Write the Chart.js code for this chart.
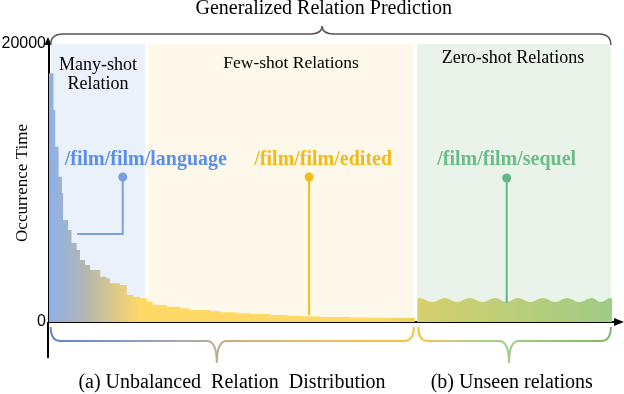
<!DOCTYPE html>
<html>
<head>
<meta charset="utf-8">
<script src="https://cdn.jsdelivr.net/npm/chart.js@4/dist/chart.umd.min.js"></script>
<style>
  body { margin: 0; background: #fff; }
  #wrap { width: 624px; height: 394px; }
</style>
</head>
<body>
<div id="wrap"><canvas id="dist" width="624" height="394"></canvas></div>
<script>
// relation rank (0-100 along the x axis) and occurrence counts
const headRank = [0, 0.8, 1.1, 1.7, 2.3, 2.5, 3.4, 4.0, 4.9, 5.5, 6.4, 7.3, 9.1, 10.2, 10.8, 12.6, 13.8, 15.0, 16.2, 17.4, 18.5, 21.0, 23.3, 25.0, 28.6, 30.4, 33.4, 35.7, 39.3, 42.3, 44.6, 48.1, 53.5, 57.0, 62.3, 65.0];
const headCount = [18610, 17900, 15250, 12610, 10450, 9280, 7340, 6620, 5680, 5180, 4460, 4100, 3740, 3260, 3140, 2780, 2660, 1940, 1820, 1700, 1460, 1220, 1100, 985, 863, 790, 700, 625, 575, 500, 450, 410, 360, 330, 280, 280];
const zeroRank = [65.4, 65.9, 68.1, 70.3, 72.5, 74.7, 77.0, 79.2, 81.2, 83.3, 85.5, 87.7, 89.9, 92.0, 94.2, 96.4, 98.0, 99.6, 100];
const zeroCount = [1650, 1730, 1440, 1730, 1440, 1730, 1440, 1730, 1440, 1730, 1440, 1730, 1440, 1730, 1440, 1730, 1440, 1730, 1700];
const yTicks = [0, 20000];

// shaded groups
const groupEdges = [[0.35, 17.05], [17.6, 64.7], [65.4, 99.8]];
const groupFill = ['#eaf1fb', '#fef8ea', '#e9f3ea'];

// highlighted relations
const annLabels = ['/film/film/language', '/film/film/edited', '/film/film/sequel'];
const annRank = [13.1, 46.2, 81.3];
const annTextRank = [17.2, 48.7, 81.3];
const annDot = [10430, 10430, 10360];
const annEnd = [6330, 500, 1370];
const annColors = ['#5b8fe8', '#f2ba18', '#6cbb8a'];
const annLines = ['#7ba0e0', '#f5bd14', '#62b585'];

function headGradient(context) {
	const chart = context.chart;
	const area = chart.chartArea;
	if (!area) return '#ffd866';
	const x = chart.scales.x;
	const g = chart.ctx.createLinearGradient(x.getPixelForValue(0), 0, x.getPixelForValue(65), 0);
	g.addColorStop(0, '#8db0ea');
	g.addColorStop(0.1, '#b4b6b0');
	g.addColorStop(0.25, '#ffd866');
	g.addColorStop(0.9, '#ffd866');
	g.addColorStop(1, '#ead060');
	return g;
}
function zeroGradient(context) {
	const chart = context.chart;
	const area = chart.chartArea;
	if (!area) return '#b8ce7a';
	const x = chart.scales.x;
	const g = chart.ctx.createLinearGradient(x.getPixelForValue(65.4), 0, x.getPixelForValue(100), 0);
	g.addColorStop(0, '#d6cf6c');
	g.addColorStop(1, '#9fcc85');
	return g;
}

function brace(c, x1, x2, yBase, yFlat, yTip, tipX, r) {
	c.beginPath();
	c.moveTo(x1, yBase);
	c.quadraticCurveTo(x1, yFlat, x1 + r, yFlat);
	c.lineTo(tipX - r, yFlat);
	c.quadraticCurveTo(tipX, yFlat, tipX, yTip);
	c.quadraticCurveTo(tipX, yFlat, tipX + r, yFlat);
	c.lineTo(x2 - r, yFlat);
	c.quadraticCurveTo(x2, yFlat, x2, yBase);
	c.stroke();
}

const regions = {
	id: 'regions',
	beforeDatasetsDraw(chart) {
		const c = chart.ctx, a = chart.chartArea, x = chart.scales.x;
		c.save();
		groupEdges.forEach((e, i) => {
			c.fillStyle = groupFill[i];
			const l = x.getPixelForValue(e[0]), r = x.getPixelForValue(e[1]);
			c.fillRect(l, a.top, r - l, a.bottom - a.top);
		});
		c.fillStyle = '#000';
		c.textAlign = 'center';
		c.textBaseline = 'middle';
		c.font = '18px "Liberation Serif"';
		const m = (groupEdges[0][0] + groupEdges[0][1]) / 2;
		c.fillText('Many-shot', x.getPixelForValue(m), a.top + 21);
		c.fillText('Relation', x.getPixelForValue(m), a.top + 40);
		c.font = '17.5px "Liberation Serif"';
		c.fillText('Few-shot Relations', x.getPixelForValue(43), a.top + 19);
		c.font = '18px "Liberation Serif"';
		c.fillText('Zero-shot Relations', x.getPixelForValue(82.4), a.top + 14);
		c.restore();
	},
	afterDatasetsDraw(chart) {
		const c = chart.ctx, x = chart.scales.x, y = chart.scales.y;
		c.save();
		annLabels.forEach((t, i) => {
			const px = x.getPixelForValue(annRank[i]);
			const py = y.getPixelForValue(annDot[i]);
			c.strokeStyle = annLines[i];
			c.lineWidth = 2;
			c.beginPath();
			c.moveTo(px, py);
			c.lineTo(px, y.getPixelForValue(annEnd[i]));
			if (i === 0) c.lineTo(x.getPixelForValue(5.0), y.getPixelForValue(annEnd[i]));
			c.stroke();
			c.fillStyle = annLines[i];
			c.beginPath();
			c.arc(px, py, 4.5, 0, Math.PI * 2);
			c.fill();
			c.fillStyle = annColors[i];
			c.font = 'bold 20px "Liberation Serif"';
			c.textAlign = 'center';
			c.textBaseline = 'middle';
			c.fillText(t, x.getPixelForValue(annTextRank[i]), y.getPixelForValue(11650));
		});
		c.restore();
	},
	afterDraw(chart) {
		const c = chart.ctx, a = chart.chartArea, x = chart.scales.x, y = chart.scales.y;
		const x0 = y.right - 1;
		c.save();
		// axis extensions and arrows
		c.strokeStyle = '#000';
		c.fillStyle = '#000';
		c.lineWidth = 2;
		c.beginPath();
		c.moveTo(x0, a.top);
		c.lineTo(x0, a.top - 4);
		c.moveTo(x0, a.bottom);
		c.lineTo(x0, a.bottom + 36);
		c.moveTo(a.right, a.bottom);
		c.lineTo(a.right + 3, a.bottom);
		c.stroke();
		c.beginPath();
		c.moveTo(x0, a.top - 7);
		c.lineTo(x0 - 3.5, a.top + 1);
		c.lineTo(x0 + 3.5, a.top + 1);
		c.fill();
		c.beginPath();
		c.moveTo(a.right + 12, a.bottom);
		c.lineTo(a.right + 2, a.bottom - 4);
		c.lineTo(a.right + 2, a.bottom + 4);
		c.fill();

		// top brace and title
		c.strokeStyle = '#555';
		c.lineWidth = 1.5;
		brace(c, x.getPixelForValue(0.3), x.getPixelForValue(99.8), a.top + 1, a.top - 10, a.top - 18, x.getPixelForValue(48.5), 12);
		c.fillStyle = '#000';
		c.textAlign = 'center';
		c.textBaseline = 'middle';
		c.font = '20px "Liberation Serif"';
		c.fillText('Generalized Relation Prediction', x.getPixelForValue(48.8), 9);

		// bottom braces
		c.lineWidth = 2;
		let l = x.getPixelForValue(0.3), r = x.getPixelForValue(64.8);
		let g = c.createLinearGradient(l, 0, r, 0);
		g.addColorStop(0, '#5b85d6');
		g.addColorStop(0.35, '#a5a9b6');
		g.addColorStop(0.5, '#c9ad7c');
		g.addColorStop(0.75, '#e9c062');
		g.addColorStop(1, '#f7c233');
		c.strokeStyle = g;
		brace(c, l, r, a.bottom + 5, a.bottom + 19, a.bottom + 41, x.getPixelForValue(29.8), 10);
		l = x.getPixelForValue(65.6); r = x.getPixelForValue(99.8);
		g = c.createLinearGradient(l, 0, r, 0);
		g.addColorStop(0, '#f6c232');
		g.addColorStop(0.1, '#e6c36a');
		g.addColorStop(0.3, '#a9d28f');
		g.addColorStop(1, '#7fb86a');
		c.strokeStyle = g;
		brace(c, l, r, a.bottom + 5, a.bottom + 19, a.bottom + 41, x.getPixelForValue(81.7), 10);

		c.fillStyle = '#000';
		c.font = '20px "Liberation Serif"';
		c.fillText('(a) Unbalanced  Relation  Distribution', x.getPixelForValue(32.5), 383);
		c.fillText('(b) Unseen relations', x.getPixelForValue(82.2), 383);
		c.restore();
	}
};

const distCanvas = document.querySelector('#dist');
let distChart = new Chart(distCanvas, {
	type: 'line',
	data: {
		datasets: [{
			label: 'seen relations',
			data: headRank.map((r, i) => ({x: r, y: headCount[i]})),
			stepped: 'after',
			fill: 'origin',
			backgroundColor: headGradient,
			borderWidth: 0,
			pointRadius: 0
		}, {
			label: 'unseen relations',
			data: zeroRank.map((r, i) => ({x: r, y: zeroCount[i]})),
			tension: 0.4,
			fill: 'origin',
			backgroundColor: zeroGradient,
			borderWidth: 0,
			pointRadius: 0
		}]
	},
	options: {
		responsive: false,
		animation: false,
		devicePixelRatio: 1,
		layout: { padding: { top: 44, right: 12, left: 0, bottom: 0 } },
		plugins: { legend: { display: false }, tooltip: { enabled: false } },
		scales: {
			x: {
				type: 'linear',
				min: 0,
				max: 100,
				grid: { display: false, drawTicks: false },
				border: { color: '#000', width: 2 },
				ticks: { display: false },
				afterFit: s => { s.height = 72; }
			},
			y: {
				min: 0,
				max: 20000,
				afterBuildTicks: s => { s.ticks = yTicks.map(v => ({value: v})); },
				grid: { display: false, drawTicks: false },
				border: { color: '#000', width: 2 },
				ticks: { color: '#000', padding: 3, font: { family: 'Liberation Sans', size: 16 }, callback: v => String(v) },
				title: {
					display: true,
					text: 'Occurrence Time',
					color: '#000',
					font: { family: 'Liberation Serif', size: 17 },
					padding: { top: 12, bottom: 0 }
				},
				afterFit: s => { s.width = 49; }
			}
		}
	},
	plugins: [regions]
});
</script>
</body>
</html>
